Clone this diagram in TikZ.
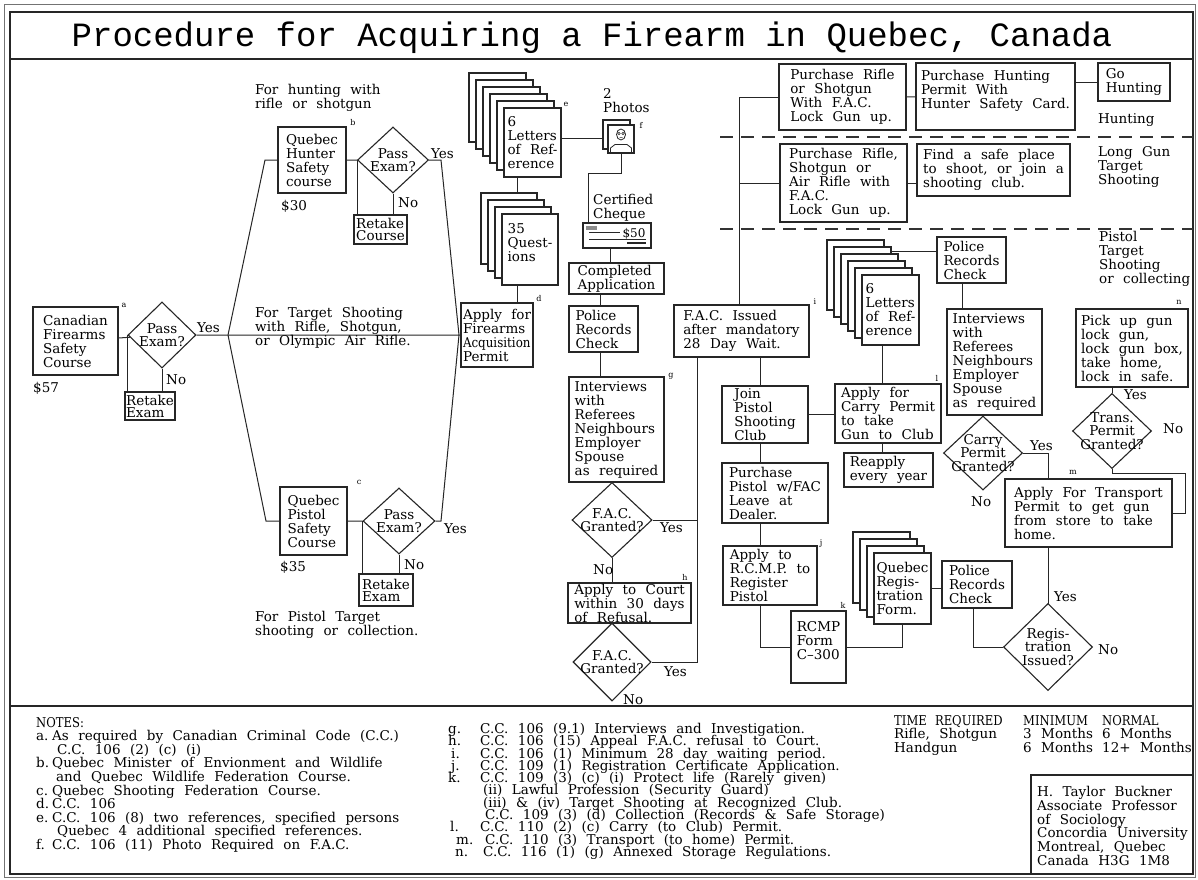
\documentclass[tikz,border=0pt]{standalone}
\usepackage{fontspec}
\setmainfont{DejaVu Serif}[WordSpace=2.2]
\newfontfamily\titlefont{Liberation Mono}
\usepackage{graphicx}
\usetikzlibrary{shapes.geometric}
\pgfdeclarelayer{bg}
\pgfsetlayers{bg,main}
\setlength{\lineskiplimit}{-50pt}
\newcommand\myfs[2]{\fontsize{#1}{#2}\selectfont}
\newcommand\mybox[7][]{\node[box,#1,minimum width={#5-#3},minimum height={#6-#4}] (#2) at ({(#3+#5)/2},{(#4+#6)/2}) {#7};}
\newcommand\mystack[7]{%
  \foreach \k in {#6,...,1}{%
    \node[sheet, minimum width=#4, minimum height=#5] (#1b\k) at ({#2+#4/2-7*\k},{#3+#5/2-7*\k}) {};}%
  \node[box, minimum width=#4, minimum height=#5] (#1) at ({#2+#4/2},{#3+#5/2}) {#7};}
\newcommand\mydia[6]{\node[dia, minimum width=#4, minimum height=#5] (#1) at (#2,#3) {};
  \node[dtxt] (#1t) at (#1) {#6};}
\newcommand\caps[1]{\scalebox{0.86}[1]{#1}}
\begin{document}
\begin{tikzpicture}[x=1pt,y=-1pt,
  font=\myfs{13.5}{14},
  ln/.style={line width=1pt, draw=black!85},
  box/.style={draw=black!85, line width=1.1pt, fill=white, align=left, inner xsep=1pt, inner ysep=0pt},
  sheet/.style={draw=black!85, line width=1.1pt, fill=white, inner sep=0pt},
  dia/.style={diamond, draw=black!85, line width=1.1pt, fill=white, inner sep=0pt},
  dtxt/.style={align=center, inner sep=0pt, font=\myfs{13.5}{13.5}},
  txt/.style={align=left, inner sep=0pt, anchor=west},
  lbl/.style={inner sep=0pt, font=\myfs{8}{8}},
  rtk/.style={font=\myfs{13.5}{12}},
  dashy/.style={line width=1.1pt, draw=black!80, dash pattern=on 13pt off 8pt},
]
\useasboundingbox (0,0) rectangle (1198,879);
% frame
\draw[line width=0.6pt, black!55] (4,4) rectangle (1195,877);
\draw[line width=1.2pt, black!85] (10,12) rectangle (1193,874);
\draw[line width=1.2pt, black!85] (10,59) -- (1193,59);
\draw[line width=1.2pt, black!85] (10,706) -- (1193,706);
\draw[line width=1.1pt, black!85] (1031,874) |- (1193,775);
\node[font=\titlefont\myfs{34}{34}, inner sep=0pt] (title) at (592,38) {Procedure for Acquiring a Firearm in Quebec, Canada};

% ---------- left part
\mybox{cfsc}{33}{307}{118}{375}{Canadian\\Firearms\\Safety\\Course}
\node[lbl] (la) at (124,305) {a};
\node[txt] (p57) at (33,388) {\$57};
\mydia{d0}{162}{335}{68}{66}{Pass\\Exam?}
\mybox[rtk]{rx0}{125}{392}{175}{420}{Retake\\Exam}
\node[txt] (no0) at (166,380) {No};
\node[txt] (yes0) at (197,328) {Yes};
\coordinate (j0) at (127,335);
\coordinate (J1) at (228,335);
\coordinate (J1u) at (265,160);
\coordinate (J1d) at (266,521);

\node[txt] (fh) at (255,97.5) {For hunting with\\rifle or shotgun};
\mybox{hunt}{278}{127}{346}{193}{Quebec\\Hunter\\Safety\\course}
\node[lbl] (lb) at (353,123) {b};
\node[txt] (p30) at (281,206) {\$30};
\mydia{d1}{393}{160}{71}{66}{Pass\\Exam?}
\mybox[rtk]{rc1}{354}{215}{407}{244}{Retake\\Course}
\node[txt] (no1) at (398,203) {No};
\node[txt] (yes1) at (431,154) {Yes};
\coordinate (j1) at (357,160);
\coordinate (k1) at (441,160);
\coordinate (J2) at (459,335);

\node[txt] (ft) at (255,327.5) {For Target Shooting\\with Rifle, Shotgun,\\or Olympic Air Rifle.};

\mybox{pist}{280}{487}{347}{555}{Quebec\\Pistol\\Safety\\Course}
\node[lbl] (lc) at (359,482) {c};
\node[txt] (p35) at (280,567) {\$35};
\mydia{d2}{399}{521}{72}{66}{Pass\\Exam?}
\mybox[rtk]{rx2}{359}{574}{413}{606}{Retake\\Exam}
\node[txt] (no2) at (404,565) {No};
\node[txt] (yes2) at (444,529) {Yes};
\coordinate (j2) at (362,521);
\coordinate (k2) at (441,521);
\node[txt] (fp) at (255,625) {For Pistol Target\\shooting or collection.};

% ---------- application column
\mybox{apply}{461}{303}{533}{367}{Apply for\\Firearms\\\scalebox{0.88}[1]{Acquisition}\\Permit}
\node[lbl] (ld) at (539,299) {d};
\mystack{Q}{502}{214}{56}{71}{3}{35\\Quest-\\ions\\\mbox{}}
\mystack{L1}{504}{108}{57}{69}{5}{6\\Letters\\of Ref-\\erence}
\node[lbl] (le) at (566,104) {e};
\coordinate (x517) at (517,0);
\coordinate (y138) at (0,138);

\node[txt] (tph) at (603,100.5) {2\\Photos};
\node[sheet, minimum width=27, minimum height=29] (ph1) at (616.5,134.5) {};
\node[sheet, minimum width=26, minimum height=28] (ph2) at (621,139) {};
\draw[line width=0.8pt, black!85] (621,134.5) ellipse (4.5pt and 5.5pt);
\draw[line width=0.5pt, black!85] (619,133.5) circle (1.2pt) (623,133.5) circle (1.2pt) (619.5,137.5) -- (622.5,137.5);
\draw[line width=0.8pt, black!85] (610.5,153) -- (610.5,148) -- (615,144.5) -- (627,144.5) -- (631.5,148) -- (631.5,153);
\node[lbl] (lf) at (641,125) {f};

\node[txt] (tcq) at (593,208) {Certified\\Cheque};
\node[sheet, minimum width=68, minimum height=25] (cq) at (617,235.5) {};
\fill[black!45] (586,225.5) rectangle (597,230);
\draw[line width=0.8pt, black!85] (589,232) -- (620,232) (589,239) -- (646,239);
\draw[line width=1.4pt, black!85] (627,243) -- (646,243);
\node[inner sep=0pt, font=\myfs{12}{12}] (c50) at (634,233.5) {\$50};
\coordinate (cqx) at (588,173);
\coordinate (x610) at (610,0);
\coordinate (x600) at (600,0);

\mybox{ca}{569}{263}{664}{294}{Completed\\Application}
\mybox{prc1}{569}{306}{638}{352}{Police\\Records\\Check}
\mybox{int1}{569}{377}{664}{482}{Interviews\\with\\Referees\\Neighbours\\Employer\\Spouse\\as required}
\node[lbl] (lg) at (671,376) {g};
\mydia{fd1}{612}{520}{80}{75}{F.A.C.\\Granted?}
\mybox{court}{568}{583}{691}{623}{Apply to Court\\within 30 days\\of Refusal.}
\node[lbl] (lh) at (685,577) {h};
\mydia{fd2}{612}{662}{78}{78}{F.A.C.\\Granted?}
\node[txt] (yf1) at (660,528) {Yes};
\node[txt] (nf1) at (593,570) {No};
\node[txt] (yf2) at (664,672) {Yes};
\node[txt] (nf2) at (623,700) {No};
\coordinate (v697) at (697,662);

% ---------- FAC and long guns
\mybox{fac}{674}{305}{809}{357}{F.A.C. Issued\\after mandatory\\28 Day Wait.}
\node[lbl] (li) at (815,302) {i};
\coordinate (v739) at (739,100);
\mybox{pr1}{779}{64}{906}{130}{Purchase Rifle\\or Shotgun\\With F.A.C.\\Lock Gun up.}
\mybox{ph}{916}{63}{1075}{130}{Purchase Hunting\\Permit With\\Hunter Safety Card.\\\mbox{}}
\mybox{gh}{1098}{63}{1170}{101}{Go\\Hunting}
\node[txt] (thu) at (1098,120) {Hunting};
\draw[dashy] (720,137) -- (1193,137);
\mybox{pr2}{780}{144}{907}{222}{Purchase Rifle,\\Shotgun or\\Air Rifle with\\F.A.C.\\Lock Gun up.}
\mybox{fs}{917}{144}{1070}{196}{Find a safe place\\to shoot, or join a\\shooting club.}
\node[txt] (tlg) at (1098,167) {Long Gun\\Target\\Shooting};
\draw[dashy] (720,229) -- (1193,229);
\node[txt] (tpt) at (1099,258.5) {Pistol\\Target\\Shooting\\or collecting};

% ---------- pistols
\mystack{L2}{862}{275}{57}{70}{5}{6\\Letters\\of Ref-\\erence}
\mybox{prc2}{937}{237}{1006}{283}{Police\\Records\\Check}
\coordinate (y251) at (0,251);
\mybox{int2}{947}{309}{1042}{415}{Interviews\\with\\Referees\\Neighbours\\Employer\\Spouse\\as required}
\coordinate (x962) at (962,0);
\mydia{cpg}{983}{453}{79}{74}{Carry\\Permit\\Granted?}
\node[txt] (ycp) at (1030,446) {Yes};
\node[txt] (ncp) at (971,502) {No};
\coordinate (x1048) at (1048,453);
\mybox{cp}{835}{384}{941}{443}{Apply for\\Carry Permit\\to take\\Gun to Club}
\node[lbl] (ll) at (937,378) {l};
\coordinate (x882) at (882,0);
\mybox{jp}{722}{386}{808}{443}{Join\\Pistol\\Shooting\\Club}
\mybox{rp}{844}{453}{933}{487}{Reapply\\every year}
\coordinate (x760) at (760,0);
\mybox{pp}{722}{463}{828}{523}{Purchase\\Pistol w/FAC\\Leave at\\Dealer.}
\mybox{ar}{723}{546}{817}{605}{Apply to\\R.C.M.P. to\\Register\\Pistol}
\node[lbl] (lj) at (821,543) {j};
\mybox{rcmp}{791}{611}{846}{683}{RCMP\\Form\\C--300\\\mbox{}}
\node[lbl] (lk) at (843,605) {k};
\mystack{qrf}{874}{553}{57}{71}{3}{Quebec\\Regis-\\tration\\Form.}
\mybox{prc3}{942}{561}{1012}{608}{Police\\Records\\Check}
\mydia{rig}{1048}{647}{89}{87}{Regis-\\tration\\Issued?}
\coordinate (x973) at (973,0);
\node[txt] (yrg) at (1054,597) {Yes};
\node[txt] (nrg) at (1098,650) {No};
\mybox{tp}{1005}{479}{1172}{547}{Apply For Transport\\Permit to get gun\\from store to take\\home.}
\node[lbl] (lm) at (1073,472) {m};
\mybox{pu}{1076}{309}{1188}{387}{Pick up gun\\lock gun,\\lock gun box,\\take home,\\lock in safe.}
\node[lbl] (ln) at (1179,302) {n};
\mydia{tpg}{1112}{431}{79}{75}{Trans.\\Permit\\Granted?}
\node[txt] (ytp) at (1124,395) {Yes};
\node[txt] (ntp) at (1163,429) {No};
\coordinate (c1185) at (1185,473);

% ---------- connectors (behind the boxes)
\begin{pgfonlayer}{bg}
\fill[white] (0,0) rectangle (1198,879);
\draw[ln] (cfsc) -- (d0) -- (J1) -- (apply);
\draw[ln] (j0) -- (j0 |- rx0);
\draw[ln] (d0) -- (d0 |- rx0);
\draw[ln] (J1) -- (J1u) -- (hunt);
\draw[ln] (J1) -- (J1d) -- (pist);
\draw[ln] (hunt) -- (d1) -- (k1) -- (J2);
\draw[ln] (j1) -- (j1 |- rc1);
\draw[ln] (d1) -- (d1 |- rc1);
\draw[ln] (pist) -- (d2) -- (k2) -- (J2);
\draw[ln] (j2) -- (j2 |- rx2);
\draw[ln] (d2) -- (d2 |- rx2);
\draw[ln] (x517 |- L1) -- (x517 |- apply);
\draw[ln] (L1 |- y138) -- (ph1 |- y138);
\draw[ln] (ph2) |- (cqx) -- (cqx |- cq);
\draw[ln] (x610 |- cq) -- (x610 |- ca);
\draw[ln] (x600 |- ca) -- (x600 |- int1);
\draw[ln] (fd1) -- (fd1 |- court);
\draw[ln] (fd1) -- (fd1 -| v697);
\draw[ln] (fd2) -- (v697) -- (v697 |- fac);
\draw[ln] (v739 |- fac) -- (v739 |- pr1) -- (pr1);
\draw[ln] (v739 |- pr2) -- (pr2);
\draw[ln] (pr1) -- (ph);
\draw[ln] (gh -| ph) -- (gh);
\draw[ln] (pr2) -- (pr2 -| fs);
\draw[ln] (prc2 |- y251) -- (L2b5 |- y251);
\draw[ln] (x962 |- prc2) -- (x962 |- int2);
\draw[ln] (cpg) -- (x1048) -- (x1048 |- rig);
\draw[ln] (x882 |- L2) -- (x882 |- rp);
\draw[ln] (jp) -- (jp -| cp);
\draw[ln] (x760 |- fac) -- (x760 |- ar) |- (rcmp);
\draw[ln] (rcmp) -| (qrf);
\draw[ln] (qrf) -- (qrf -| prc3);
\draw[ln] (x973 |- prc3) |- (rig);
\draw[ln] (tpg) -- (tpg |- pu);
\draw[ln] (tpg) |- (c1185) |- (tp);
\end{pgfonlayer}

% ---------- notes
\node[anchor=north west, inner sep=0pt, align=left, font=\myfs{13.5}{13.56}] (notesL) at (36,717) {\caps{NOTES:}\\
\makebox[16pt][l]{a.}As required by Canadian Criminal Code (C.C.)\\
\hspace*{21pt}C.C. 106 (2) (c) (i)\\
\makebox[16pt][l]{b.}Quebec Minister of Envionment and Wildlife\\
\hspace*{20pt}and Quebec Wildlife Federation Course.\\
\makebox[16pt][l]{c.}Quebec Shooting Federation Course.\\
\makebox[16pt][l]{d.}C.C. 106\\
\makebox[16pt][l]{e.}C.C. 106 (8) two references, specified persons\\
\hspace*{21pt}Quebec 4 additional specified references.\\
\makebox[16pt][l]{f.}C.C. 106 (11) Photo Required on F.A.C.};

\node[anchor=north west, inner sep=0pt, align=left, font=\myfs{13.5}{12.3}] (notesM) at (448,723) {\makebox[32pt][l]{g.}C.C. 106 (9.1) Interviews and Investigation.\\
\makebox[32pt][l]{h.}C.C. 106 (15) Appeal F.A.C. refusal to Court.\\
\hspace*{3pt}\makebox[29pt][l]{i.}C.C. 106 (1) Minimum 28 day waiting period.\\
\hspace*{3pt}\makebox[29pt][l]{j.}C.C. 109 (1) Registration Certificate Application.\\
\makebox[32pt][l]{k.}C.C. 109 (3) (c) (i) Protect life (Rarely given)\\
\hspace*{35pt}(ii) Lawful Profession (Security Guard)\\
\hspace*{35pt}(iii) \& (iv) Target Shooting at Recognized Club.\\
\hspace*{37pt}C.C. 109 (3) (d) Collection (Records \& Safe Storage)\\
\hspace*{2pt}\makebox[30pt][l]{l.}C.C. 110 (2) (c) Carry (to Club) Permit.\\
\hspace*{8pt}\makebox[29pt][l]{m.}C.C. 110 (3) Transport (to home) Permit.\\
\hspace*{7pt}\makebox[28pt][l]{n.}C.C. 116 (1) (g) Annexed Storage Regulations.};

\node[anchor=north west, inner sep=0pt, align=left, font=\myfs{13.5}{13.5}] (timeq) at (894,715) {\makebox[129pt][l]{\caps{TIME REQUIRED}}\makebox[79pt][l]{\caps{MINIMUM}}\caps{NORMAL}\\
\makebox[129pt][l]{Rifle, Shotgun}\makebox[79pt][l]{3 Months}6 Months\\
\makebox[129pt][l]{Handgun}\makebox[79pt][l]{6 Months}12+ Months};

\node[anchor=north west, inner sep=0pt, align=left, font=\myfs{13.5}{13.8}] (auth) at (1037,786) {H. Taylor Buckner\\Associate Professor\\of Sociology\\Concordia University\\Montreal, Quebec\\Canada H3G 1M8};
\end{tikzpicture}
\end{document}
